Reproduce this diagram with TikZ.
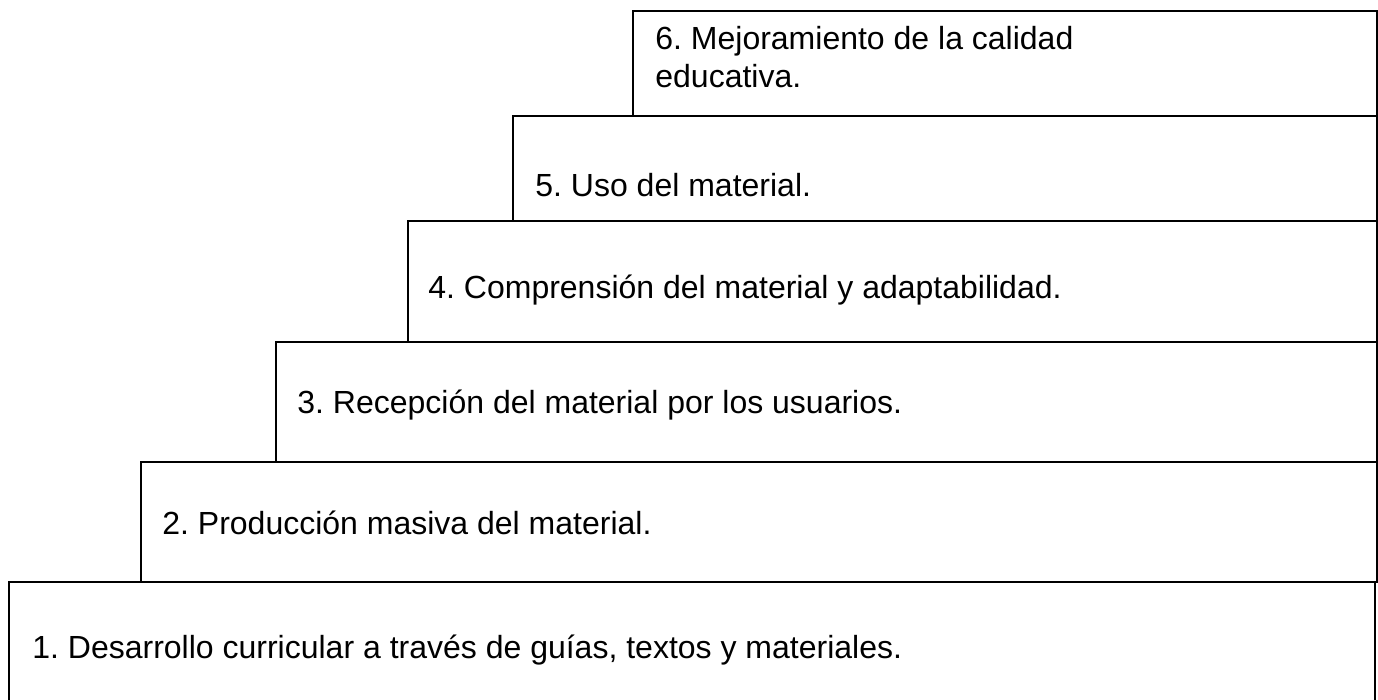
\documentclass[tikz,border=0pt]{standalone}
\usepackage{fontspec}
\setmainfont{Liberation Sans}
\frenchspacing
\usepackage{tikz}
\usetikzlibrary{calc,positioning}
\tikzset{
	stair/.style={draw, line width=0.9pt, inner sep=0pt, outer sep=0pt, anchor=north east},
	stair text/.style={inner sep=0pt, anchor=base west, align=left,
		font=\fontsize{16pt}{19pt}\selectfont},
}
\begin{document}
\begin{tikzpicture}[x=0.5pt,y=-0.5pt]
	\useasboundingbox (0,0) rectangle (1378,700);
	% steps, bottom to top
	\node[stair, minimum width=683pt, minimum height=62pt] (s1) at (1375,582) {};
	\node[stair, minimum width=618pt, minimum height=60pt] (s2) at (1377,462) {};
	\node[stair, minimum width=550.5pt, minimum height=60pt] (s3) at (1377,342) {};
	\node[stair, minimum width=484.5pt, minimum height=60.5pt] (s4) at (1377,221) {};
	\node[stair, minimum width=432pt, minimum height=52.5pt] (s5) at (1377,116) {};
	\node[stair, minimum width=372pt, minimum height=52.5pt] (s6) at (1377,11) {};
	% texts (base of the last line)
	\node[stair text] (t1) at ($(s1.north west)+(23,76)$) {1. Desarrollo curricular a través de guías, textos y materiales.};
	\node[stair text] (t2) at ($(s2.north west)+(21,73)$) {2. Producción masiva del material.};
	\node[stair text] (t3) at ($(s3.north west)+(21,72)$) {3. Recepción del material por los usuarios.};
	\node[stair text] (t4) at ($(s4.north west)+(20,78)$) {4. Comprensión del material y adaptabilidad.};
	\node[stair text] (t5) at ($(s5.north west)+(22,81)$) {5. Uso del material.};
	\node[stair text] (t6) at ($(s6.north west)+(22,77)$) {6. Mejoramiento de la calidad\\educativa.};
\end{tikzpicture}
\end{document}
